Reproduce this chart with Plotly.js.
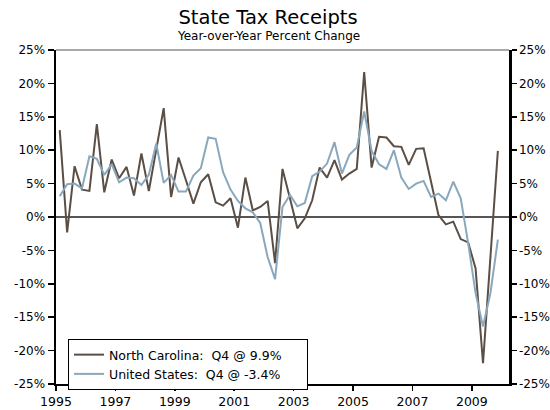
<!DOCTYPE html>
<html>
<head>
<meta charset="utf-8">
<script src="https://cdn.plot.ly/plotly-3.0.1.min.js"></script>
<style>html,body{margin:0;padding:0;background:#fff;}#chart{width:550px;height:410px;}</style>
</head>
<body>
<div id="chart"></div>
<script>
// Quarterly data, 1995 Q1 – 2009 Q4 (year-over-year % change)
const startYear = 1995;
const nQuarters = 60;

const northCarolina = [
  13.0, -2.3, 7.6, 4.1, 3.9, 13.9, 3.7, 8.6, 5.8, 7.5, 3.2, 9.5,
  3.9, 10.0, 16.3, 3.0, 8.9, 5.5, 2.0, 5.2, 6.4, 2.2, 1.7, 2.8,
  -1.6, 5.9, 1.0, 1.5, 2.4, -6.9, 7.2, 2.8, -1.7, -0.2, 2.5, 7.4,
  5.9, 8.5, 5.6, 6.5, 7.2, 21.7, 7.4, 12.0, 11.9, 10.6, 10.5, 7.8,
  10.2, 10.3, 5.2, 0.3, -1.1, -0.7, -3.3, -3.8, -7.7, -21.9, -6.0, 9.9
];

const unitedStates = [
  3.1, 4.9, 5.0, 4.3, 9.1, 8.7, 6.3, 7.9, 5.2, 5.9, 5.8, 4.8,
  6.3, 11.0, 5.1, 6.3, 3.8, 3.8, 6.2, 7.3, 11.9, 11.7, 6.7, 4.1,
  2.4, 1.3, 0.7, -0.9, -6.0, -9.3, 1.5, 3.3, 1.6, 2.1, 6.1, 6.8,
  8.0, 11.2, 6.5, 9.3, 10.4, 15.8, 9.9, 7.9, 7.2, 10.0, 5.9, 4.2,
  5.0, 5.4, 3.0, 3.5, 2.5, 5.3, 2.8, -3.9, -11.4, -16.4, -11.4, -3.4
];

const seriesNames = ["North Carolina:\u00a0 Q4 @ 9.9%\u00a0\u00a0\u00a0\u00a0\u00a0", "United States:\u00a0 Q4 @ -3.4%"];
const chartTitle = "State Tax Receipts";
const chartSubtitle = "Year-over-Year Percent Change";
const xTickYears = [1995, 1997, 1999, 2001, 2003, 2005, 2007, 2009];
const xTickLabels = ["1995", "1997", "1999", "2001", "2003", "2005", "2007", "2009"];
const yTickValues = [-25, -20, -15, -10, -5, 0, 5, 10, 15, 20, 25];
const yTickLabels = ["-25%", "-20%", "-15%", "-10%", "-5%", "0%", "5%", "10%", "15%", "20%", "25%"];

// quarter midpoints in fractional years
const quarterX = [];
for (let i = 0; i < nQuarters; i++) {
  const year = startYear + Math.floor(i / 4);
  const q = (i % 4) + 1;
  quarterX.push(year + (q - 0.5) / 4);
}

const FONT = "DejaVu Sans, Verdana, sans-serif";
const SMALL = 12.5;
const YTICK = 12;

const traces = [
  {
    x: quarterX, y: northCarolina, name: seriesNames[0], type: "scatter", mode: "lines",
    line: { color: "#5b4e44", width: 2 }
  },
  {
    x: quarterX, y: unitedStates, name: seriesNames[1], type: "scatter", mode: "lines",
    line: { color: "#89a8bd", width: 2 }
  },
  {
    x: quarterX, y: northCarolina, yaxis: "y2", type: "scatter", mode: "lines",
    line: { color: "rgba(0,0,0,0)", width: 0 }, showlegend: false, hoverinfo: "skip"
  }
];

const layout = {
  width: 550, height: 410,
  margin: { l: 56, r: 41, t: 50, b: 26 },
  paper_bgcolor: "#fff", plot_bgcolor: "#fff",
  font: { family: FONT, size: SMALL, color: "#000" },
  title: {
    text: chartTitle,
    font: { family: FONT, size: 19.5, color: "#000" },
    x: 268 / 550, xanchor: "center", xref: "container",
    y: 1 - 17 / 410, yanchor: "middle", yref: "container"
  },
  annotations: [
    {
      text: chartSubtitle, xref: "paper", yref: "paper",
      x: (268 - 56) / 453, y: 1, xanchor: "center", yanchor: "middle", yshift: 14,
      showarrow: false, font: { family: FONT, size: 12, color: "#000" }
    }
  ],
  xaxis: {
    range: [startYear, startYear + 61 / 4],
    tickvals: xTickYears, ticktext: xTickLabels,
    showgrid: false, zeroline: false,
    showline: true, linecolor: "#000", linewidth: 2,
    ticks: "outside", ticklen: 5, tickcolor: "#000", tickwidth: 1.5,
    tickfont: { family: FONT, size: SMALL, color: "#000" }
  },
  yaxis: {
    range: [-25, 25],
    tickvals: yTickValues, ticktext: yTickLabels,
    showgrid: false,
    zeroline: true, zerolinecolor: "#555", zerolinewidth: 1.5,
    showline: true, linecolor: "#000", linewidth: 2.5,
    ticks: "outside", ticklen: 6, tickcolor: "#000", tickwidth: 1.5,
    tickfont: { family: FONT, size: YTICK, color: "#000" }
  },
  yaxis2: {
    range: [-25, 25], overlaying: "y", side: "right",
    tickvals: yTickValues, ticktext: yTickLabels,
    showgrid: false, zeroline: false,
    showline: true, linecolor: "#000", linewidth: 2.5,
    ticks: "outside", ticklen: 5, tickcolor: "#000", tickwidth: 1.5,
    tickfont: { family: FONT, size: YTICK, color: "#000" }
  },
  shapes: [
    { type: "line", xref: "paper", yref: "paper", x0: 0, x1: 1, y0: 1, y1: 1, line: { color: "#555", width: 1.2 } }
  ],
  legend: {
    x: (68 - 56) / 453, y: (384 - 339) / 334, xanchor: "left", yanchor: "top",
    bgcolor: "#fff", bordercolor: "#000", borderwidth: 1,
    font: { family: FONT, size: SMALL, color: "#000" },
    tracegroupgap: 0
  },
  showlegend: true
};

Plotly.newPlot("chart", traces, layout, { staticPlot: true, displayModeBar: false });
</script>
</body>
</html>
